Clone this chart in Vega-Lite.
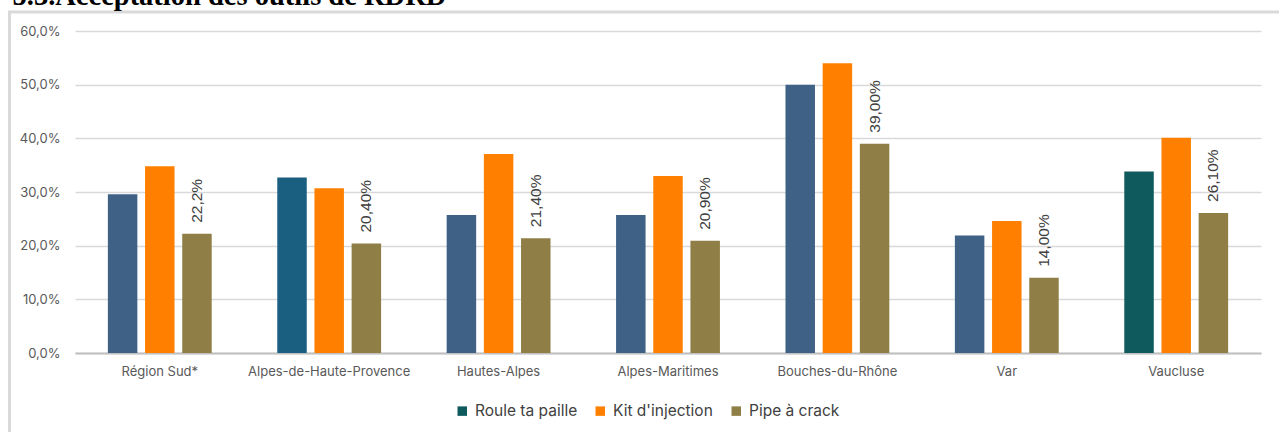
{
  "$schema": "https://vega.github.io/schema/vega-lite/v6.json",
  "autosize": "none",
  "width": 1279,
  "height": 432,
  "padding": {"left": 9.5, "top": 12, "right": 0, "bottom": 0},
  "background": "white",
  "title": {
    "text": "5.3.Acceptation des outils de RDRD",
    "anchor": "start",
    "frame": "group",
    "font": "Liberation Serif",
    "fontSize": 28.5,
    "fontWeight": "bold",
    "color": "#000000",
    "baseline": "bottom",
    "offset": -27,
    "dx": 3
  },
  "config": {
    "view": {"stroke": "#d9d9d9", "strokeWidth": 3},
    "axis": {"labelFont": "Inter", "labelColor": "#595959", "labelFontSize": 13}
  },
  "data": {
    "values": [
      {"region": "Région Sud*", "serie": "Roule ta paille", "valeur": 29.6},
      {"region": "Région Sud*", "serie": "Kit d'injection", "valeur": 34.8},
      {"region": "Région Sud*", "serie": "Pipe à crack", "valeur": 22.2, "label": "22,2%"},
      {"region": "Alpes-de-Haute-Provence", "serie": "Roule ta paille", "valeur": 32.7},
      {"region": "Alpes-de-Haute-Provence", "serie": "Kit d'injection", "valeur": 30.7},
      {"region": "Alpes-de-Haute-Provence", "serie": "Pipe à crack", "valeur": 20.4, "label": "20,40%"},
      {"region": "Hautes-Alpes", "serie": "Roule ta paille", "valeur": 25.7},
      {"region": "Hautes-Alpes", "serie": "Kit d'injection", "valeur": 37.1},
      {"region": "Hautes-Alpes", "serie": "Pipe à crack", "valeur": 21.4, "label": "21,40%"},
      {"region": "Alpes-Maritimes", "serie": "Roule ta paille", "valeur": 25.7},
      {"region": "Alpes-Maritimes", "serie": "Kit d'injection", "valeur": 33.0},
      {"region": "Alpes-Maritimes", "serie": "Pipe à crack", "valeur": 20.9, "label": "20,90%"},
      {"region": "Bouches-du-Rhône", "serie": "Roule ta paille", "valeur": 50.0},
      {"region": "Bouches-du-Rhône", "serie": "Kit d'injection", "valeur": 54.0},
      {"region": "Bouches-du-Rhône", "serie": "Pipe à crack", "valeur": 39.0, "label": "39,00%"},
      {"region": "Var", "serie": "Roule ta paille", "valeur": 21.9},
      {"region": "Var", "serie": "Kit d'injection", "valeur": 24.6},
      {"region": "Var", "serie": "Pipe à crack", "valeur": 14.0, "label": "14,00%"},
      {"region": "Vaucluse", "serie": "Roule ta paille", "valeur": 33.8},
      {"region": "Vaucluse", "serie": "Kit d'injection", "valeur": 40.1},
      {"region": "Vaucluse", "serie": "Pipe à crack", "valeur": 26.1, "label": "26,10%"}
    ]
  },
  "encoding": {
    "x": {
      "field": "region",
      "type": "nominal",
      "sort": null,
      "scale": {"range": [65.5, 1251.5], "paddingInner": 0.387, "paddingOuter": 0.194},
      "axis": {
        "title": null,
        "orient": "bottom",
        "offset": -91,
        "labelAngle": 0,
        "ticks": false,
        "tickSize": 0,
        "labelPadding": 12,
        "domainColor": "#bfbfbf",
        "domainWidth": 2,
        "grid": false
      }
    },
    "xOffset": {
      "field": "serie",
      "type": "nominal",
      "sort": ["Roule ta paille", "Kit d'injection", "Pipe à crack"],
      "scale": {"paddingInner": 0.207, "paddingOuter": 0}
    },
    "y": {
      "field": "valeur",
      "type": "quantitative",
      "scale": {"domain": [0, 60], "range": [341, 19], "nice": false, "zero": true},
      "axis": {
        "title": null,
        "offset": -65.5,
        "values": [0, 10, 20, 30, 40, 50, 60],
        "labelExpr": "replace(format(datum.value, '.1f'), '.', ',') + '%'",
        "domain": false,
        "ticks": false,
        "tickSize": 0,
        "labelPadding": 15,
        "grid": true,
        "gridColor": "#d9d9d9",
        "gridWidth": 1.3
      }
    }
  },
  "layer": [
    {
      "mark": {"type": "bar"},
      "encoding": {
        "color": {
          "condition": [
            {"test": "datum.serie === 'Roule ta paille' && datum.region === 'Alpes-de-Haute-Provence'", "value": "#1a5e80"},
            {"test": "datum.serie === 'Roule ta paille' && datum.region !== 'Vaucluse'", "value": "#3e6185"}
          ],
          "field": "serie",
          "type": "nominal",
          "scale": {
            "domain": ["Roule ta paille", "Kit d'injection", "Pipe à crack"],
            "range": ["#0e5a5c", "#ff8000", "#8f7e46"]
          },
          "legend": {
            "title": null,
            "orient": "none",
            "legendX": 445,
            "legendY": 391,
            "direction": "horizontal",
            "padding": 0,
            "symbolType": "square",
            "symbolSize": 90,
            "symbolStrokeWidth": 0,
            "labelFont": "Inter",
            "labelFontSize": 15.5,
            "labelColor": "#404040",
            "labelOffset": 5,
            "columnPadding": 15
          }
        }
      }
    },
    {
      "transform": [{"filter": "datum.serie === 'Pipe à crack'"}],
      "mark": {
        "type": "text",
        "angle": 270,
        "align": "left",
        "baseline": "middle",
        "dx": 11,
        "font": "Liberation Sans",
        "fontSize": 15.5,
        "color": "#404040"
      },
      "encoding": {"text": {"field": "label"}}
    }
  ]
}
